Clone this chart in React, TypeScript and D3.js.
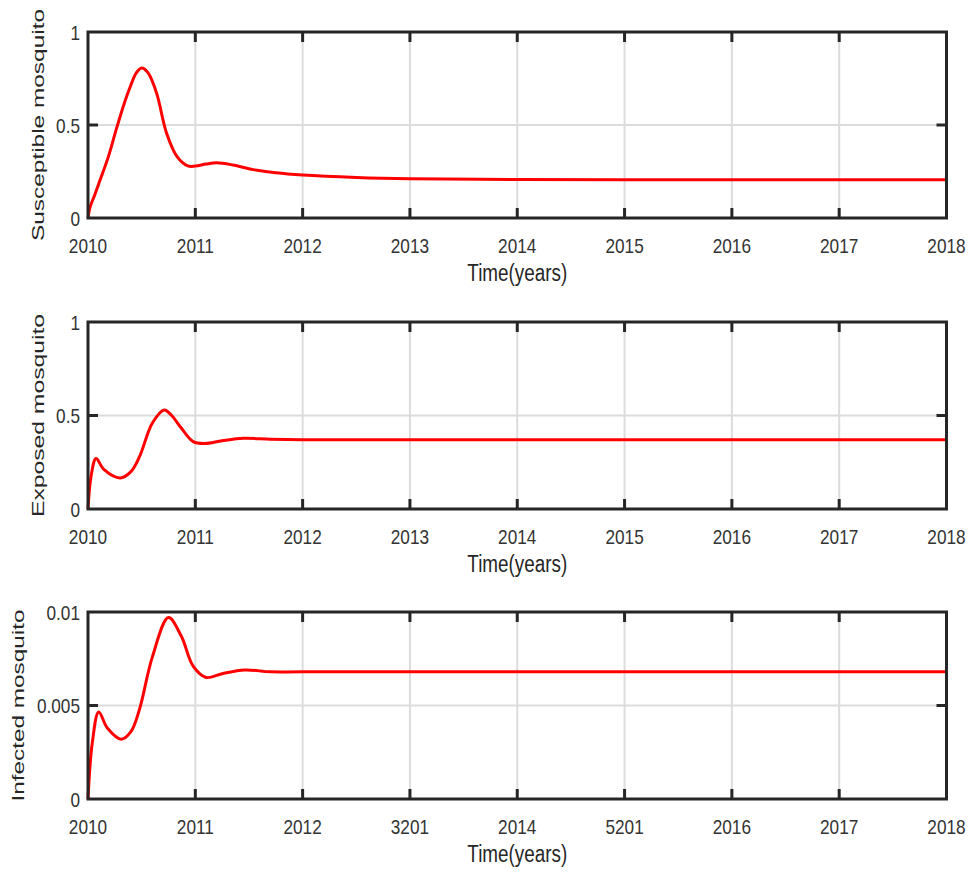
import * as d3 from "d3";
import React, { useEffect } from "react";

// x axis ticks (years) and labels
const yearTicks = [2010, 2011, 2012, 2013, 2014, 2015, 2016, 2017, 2018];
const yearLabels = ["2010", "2011", "2012", "2013", "2014", "2015", "2016", "2017", "2018"];
// the bottom panel has two reversed labels in the original figure
const yearLabelsBottom = ["2010", "2011", "2012", "3201", "2014", "5201", "2016", "2017", "2018"];

// Susceptible mosquito
const susTime = [2010, 2010.02, 2010.06, 2010.11, 2010.19, 2010.27, 2010.34, 2010.39, 2010.45, 2010.5, 2010.56, 2010.64, 2010.73, 2010.83, 2010.93, 2011.0, 2011.1, 2011.2, 2011.35, 2011.54, 2011.75, 2012.0, 2012.5, 2013, 2014, 2015, 2016, 2017, 2018];
const susValue = [0, 0.06, 0.12, 0.2, 0.33, 0.49, 0.62, 0.7, 0.78, 0.806, 0.78, 0.67, 0.46, 0.33, 0.28, 0.279, 0.29, 0.297, 0.285, 0.26, 0.243, 0.231, 0.218, 0.211, 0.207, 0.205, 0.205, 0.205, 0.205];

// Exposed mosquito
const expTime = [2010, 2010.03, 2010.075, 2010.15, 2010.3, 2010.4, 2010.48, 2010.6, 2010.71, 2010.78, 2010.86, 2010.98, 2011.09, 2011.25, 2011.45, 2011.7, 2012, 2013, 2018];
const expValue = [0, 0.18, 0.27, 0.21, 0.166, 0.2, 0.28, 0.46, 0.53, 0.5, 0.44, 0.36, 0.35, 0.365, 0.378, 0.373, 0.37, 0.37, 0.37];

// Infected mosquito
const infTime = [2010, 2010.04, 2010.1, 2010.18, 2010.31, 2010.4, 2010.48, 2010.6, 2010.75, 2010.87, 2010.98, 2011.1, 2011.25, 2011.46, 2011.7, 2012, 2018];
const infValue = [0, 0.003, 0.00465, 0.0038, 0.0032, 0.0036, 0.0048, 0.0076, 0.0097, 0.0087, 0.0071, 0.0065, 0.0067, 0.0069, 0.0068, 0.0068, 0.0068];

const susTicks = [0, 0.5, 1];
const expTicks = [0, 0.5, 1];
const infTicks = [0, 0.005, 0.01];
const susTickLabels = ["0", "0.5", "1"];
const expTickLabels = ["0", "0.5", "1"];
const infTickLabels = ["0", "0.005", "0.01"];

const WIDTH = 971;
const HEIGHT = 873;
const LEFT = 88;
const RIGHT = 946.5;
const FRAME = "#262626";
const GRID = "#dcdcdc";
const FONT = "'Liberation Sans', Arial, sans-serif";
const TICK_SIZE = 21;
const NARROW = 0.82; // the original uses a narrow face, squeeze horizontally

interface PanelProps {
  top: number;
  bottom: number;
  time: number[];
  values: number[];
  yMax: number;
  yTicks: number[];
  yTickLabels: string[];
  xLabels: string[];
  yLabel: string;
  yLabelX: number;
  yLabelLength: number;
}

const Panel: React.FC<PanelProps> = ({ top, bottom, time, values, yMax, yTicks, yTickLabels, xLabels, yLabel, yLabelX, yLabelLength }) => {
  const x = d3.scaleLinear().domain([2010, 2018]).range([LEFT, RIGHT]);
  const y = d3.scaleLinear().domain([0, yMax]).range([bottom, top]);
  const pts = time.map((t, i) => [t, values[i]] as [number, number]);
  const line = d3
    .line<[number, number]>()
    .x((d) => x(d[0]))
    .y((d) => y(d[1]))
    .curve(d3.curveCatmullRom.alpha(0.5));
  const tickLen = 10;
  const cy = (top + bottom) / 2;

  return (
    <g>
      {/* grid */}
      {yearTicks.slice(1, -1).map((t) => (
        <line key={"gx" + t} x1={x(t)} x2={x(t)} y1={top} y2={bottom} stroke={GRID} strokeWidth={2} />
      ))}
      {yTicks.slice(1, -1).map((v) => (
        <line key={"gy" + v} x1={LEFT} x2={RIGHT} y1={y(v)} y2={y(v)} stroke={GRID} strokeWidth={2} />
      ))}

      {/* data */}
      <path d={line(pts)!} fill="none" stroke="#ff0000" strokeWidth={3} strokeLinejoin="round" />

      {/* ticks, pointing inward */}
      {yearTicks.slice(1, -1).map((t) => (
        <g key={"tx" + t}>
          <line x1={x(t)} x2={x(t)} y1={bottom} y2={bottom - tickLen} stroke={FRAME} strokeWidth={3} />
          <line x1={x(t)} x2={x(t)} y1={top} y2={top + tickLen} stroke={FRAME} strokeWidth={3} />
        </g>
      ))}
      {yTicks.slice(1, -1).map((v) => (
        <g key={"ty" + v}>
          <line x1={LEFT} x2={LEFT + tickLen} y1={y(v)} y2={y(v)} stroke={FRAME} strokeWidth={3} />
          <line x1={RIGHT} x2={RIGHT - tickLen} y1={y(v)} y2={y(v)} stroke={FRAME} strokeWidth={3} />
        </g>
      ))}

      {/* frame */}
      <rect x={LEFT} y={top} width={RIGHT - LEFT} height={bottom - top} fill="none" stroke={FRAME} strokeWidth={3} />

      {/* x tick labels */}
      {yearTicks.map((t, i) => (
        <text
          key={"lx" + t}
          transform={`translate(${x(t)}, ${bottom + 35}) scale(${NARROW}, 1)`}
          textAnchor="middle"
          fontFamily={FONT}
          fontSize={TICK_SIZE}
          fill="#333"
        >
          {xLabels[i]}
        </text>
      ))}
      {/* y tick labels */}
      {yTicks.map((v, i) => (
        <text
          key={"ly" + v}
          transform={`translate(${LEFT - 8}, ${y(v) + 7.5}) scale(${NARROW}, 1)`}
          textAnchor="end"
          fontFamily={FONT}
          fontSize={TICK_SIZE}
          fill="#333"
        >
          {yTickLabels[i]}
        </text>
      ))}

      {/* axis labels */}
      <text
        transform={`translate(${(LEFT + RIGHT) / 2}, ${bottom + 63}) scale(${NARROW}, 1)`}
        textAnchor="middle"
        fontFamily={FONT}
        fontSize={23}
        fill={FRAME}
      >
        Time(years)
      </text>
      <text
        transform={`translate(${yLabelX}, ${cy}) rotate(-90)`}
        textAnchor="middle"
        fontFamily={FONT}
        fontSize={17}
        fill={FRAME}
        textLength={yLabelLength}
        lengthAdjust="spacingAndGlyphs"
      >
        {yLabel}
      </text>
    </g>
  );
};

export default function App() {
  useEffect(() => {
    document.body.style.margin = "0";
    document.body.style.background = "#fff";
  }, []);

  return (
    <svg width={WIDTH} height={HEIGHT} style={{ display: "block", background: "#fff" }}>
      <Panel
        top={32}
        bottom={218}
        time={susTime}
        values={susValue}
        yMax={1}
        yTicks={susTicks}
        yTickLabels={susTickLabels}
        xLabels={yearLabels}
        yLabel="Susceptible mosquito"
        yLabelX={43.5}
        yLabelLength={232}
      />
      <Panel
        top={322}
        bottom={509}
        time={expTime}
        values={expValue}
        yMax={1}
        yTicks={expTicks}
        yTickLabels={expTickLabels}
        xLabels={yearLabels}
        yLabel="Exposed  mosquito"
        yLabelX={43.5}
        yLabelLength={203}
      />
      <Panel
        top={612}
        bottom={799}
        time={infTime}
        values={infValue}
        yMax={0.01}
        yTicks={infTicks}
        yTickLabels={infTickLabels}
        xLabels={yearLabelsBottom}
        yLabel="Infected mosquito"
        yLabelX={23.5}
        yLabelLength={192}
      />
    </svg>
  );
}
